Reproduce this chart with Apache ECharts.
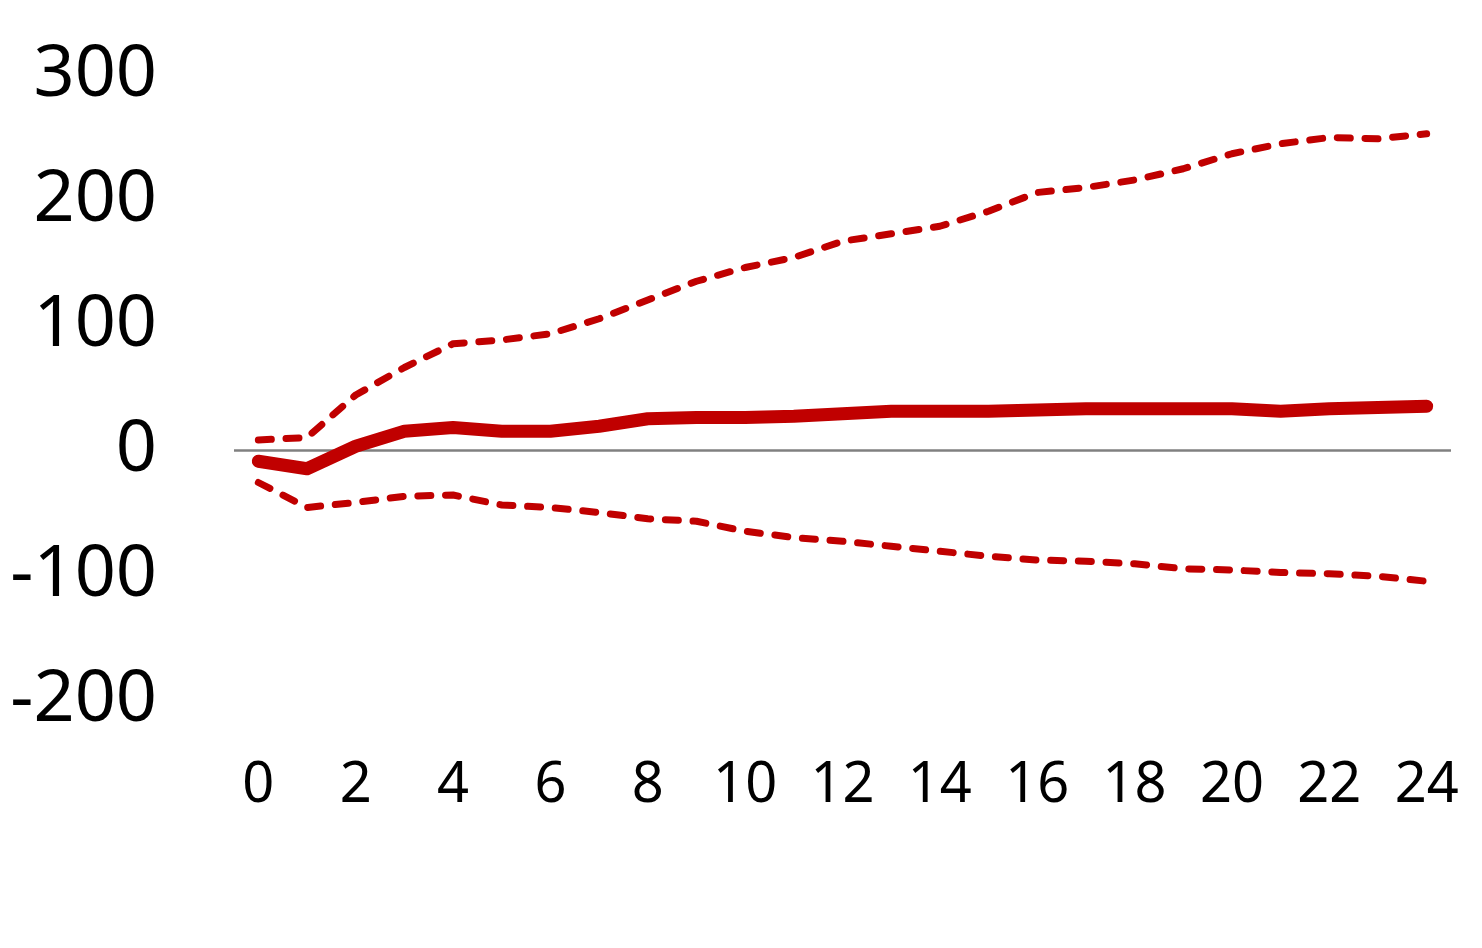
<!DOCTYPE html>
<html>
<head>
<meta charset="utf-8">
<script src="https://cdn.jsdelivr.net/npm/echarts@6/dist/echarts.min.js"></script>
<style>
html,body{margin:0;padding:0;background:#fff;}
#chart{width:1482px;height:948px;}
</style>
</head>
<body>
<div id="chart"></div>
<script>
const categories = ['0','1','2','3','4','5','6','7','8','9','10','11','12','13','14','15','16','17','18','19','20','21','22','23','24'];
const central = [-9,-15,3,15,18,15,15,19,25,26,26,27,29,31,31,31,32,33,33,33,33,31,33,34,35];
const upper = [8,10,44,66,85,88,93,105,120,135,146,154,167,173,179,191,206,210,216,225,237,245,250,249,253];
const lower = [-26,-46,-42,-37,-36,-44,-46,-50,-55,-57,-65,-70,-73,-77,-81,-85,-88,-89,-91,-95,-96,-98,-99,-101,-105];
const yTicks = {min:-200, max:300, interval:100};

const RED = '#C00000';
const chart = echarts.init(document.getElementById('chart'));
chart.setOption({
  animation:false,
  backgroundColor:'#fff',
  grid:{left:234,right:31,top:75,bottom:248},
  xAxis:{
    type:'category', data:categories, boundaryGap:true,
    axisLine:{show:false}, axisTick:{show:false},
    axisLabel:{interval:1, margin:58, fontSize:56, lineHeight:56, color:'#000', fontFamily:'Noto Sans'},
    splitLine:{show:false}
  },
  yAxis:{
    type:'value', min:yTicks.min, max:yTicks.max, interval:yTicks.interval,
    axisLine:{show:false}, axisTick:{show:false}, splitLine:{show:false},
    axisLabel:{margin:77, fontSize:72, color:'#000', fontFamily:'Noto Sans'}
  },
  series:[
    {type:'line', data:upper, symbol:'none', z:3,
     lineStyle:{color:RED, width:7, type:[13,14.7], cap:'round'},
     markLine:{silent:true, symbol:'none', label:{show:false}, z:1,
       lineStyle:{color:'#808080', width:2.5, type:'solid'},
       data:[{yAxis:0}]}},
    {type:'line', data:lower, symbol:'none', z:3,
     lineStyle:{color:RED, width:7, type:[13,14.7], cap:'round'}},
    {type:'line', data:central, symbol:'none', z:4,
     lineStyle:{color:RED, width:13, cap:'round', join:'round'}}
  ]
});
</script>
</body>
</html>
